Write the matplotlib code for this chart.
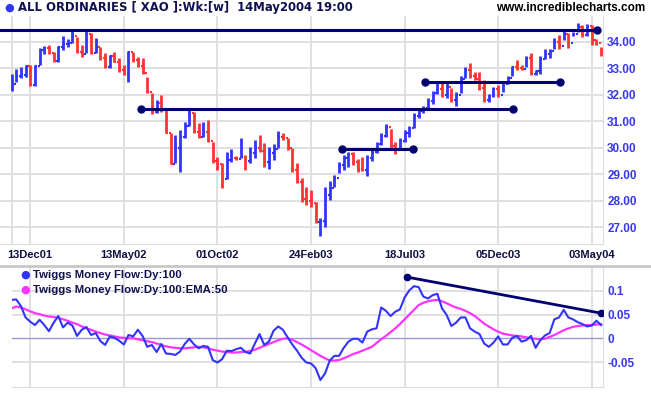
import numpy as np
import matplotlib
matplotlib.use('Agg')
import matplotlib.pyplot as plt

# Weekly bars, ALL ORDINARIES (XAO), late Oct 2001 - 14 May 2004
highs = [32.77, 32.96, 33.06, 33.14, 33.14, 33.12, 33.75, 33.84, 33.87, 33.62,
         33.84, 34.21, 34.10, 34.40, 34.19, 33.87, 34.40, 34.31, 34.15, 33.81,
         33.56, 33.50, 33.62, 33.37, 33.14, 33.65, 33.62, 33.41, 33.37, 32.68,
         32.05, 31.80, 31.99, 31.46, 30.54, 30.48, 30.67, 30.98, 31.49, 31.34,
         30.92, 30.98, 31.05, 30.23, 29.66, 29.41, 29.83, 29.95, 29.70, 30.35,
         29.73, 30.04, 30.29, 30.48, 30.17, 30.04, 30.15, 30.63, 30.54, 30.35,
         29.98, 29.41, 28.85, 28.53, 28.41, 27.97, 27.34, 28.53, 28.76, 28.97,
         29.48, 29.73, 29.85, 29.83, 29.57, 29.66, 29.72, 29.94, 30.23, 30.57,
         30.89, 30.70, 30.20, 30.35, 30.67, 30.83, 31.30, 31.48, 31.59, 31.86,
         32.14, 32.47, 32.47, 32.47, 32.24, 32.09, 32.72, 33.06, 33.18, 32.87,
         32.87, 32.56, 32.03, 32.30, 32.37, 32.50, 32.70, 33.10, 33.30, 33.12,
         33.46, 33.56, 32.95, 33.46, 33.72, 33.72, 34.13, 34.25, 34.47, 34.32,
         34.38, 34.70, 34.63, 34.67, 34.63, 34.09, 33.80]
lows = [32.15, 32.47, 32.62, 32.68, 32.34, 32.34, 33.12, 33.52, 33.52, 33.22,
        33.25, 33.69, 33.80, 33.94, 33.56, 33.41, 33.56, 33.52, 33.56, 33.31,
        33.02, 33.02, 33.22, 32.87, 32.74, 32.47, 33.22, 33.06, 32.77, 32.05,
        31.26, 31.30, 31.36, 30.54, 29.37, 29.41, 29.10, 30.38, 30.83, 30.54,
        30.35, 30.39, 30.23, 29.44, 29.16, 28.47, 28.82, 29.47, 29.54, 29.60,
        29.16, 29.41, 29.60, 29.85, 29.29, 29.20, 29.54, 29.98, 30.29, 29.91,
        29.10, 28.66, 27.97, 27.84, 27.78, 27.15, 26.68, 27.02, 28.03, 28.53,
        29.04, 29.16, 29.28, 29.35, 29.10, 29.12, 28.94, 29.50, 29.79, 30.10,
        30.42, 29.91, 29.76, 29.98, 30.23, 30.42, 30.73, 31.11, 31.33, 31.42,
        31.64, 32.01, 31.93, 31.86, 31.74, 31.59, 32.05, 32.62, 32.62, 32.55,
        32.18, 31.74, 31.74, 31.90, 31.90, 32.10, 32.40, 32.70, 32.95, 32.95,
        33.06, 32.75, 32.75, 32.80, 33.35, 33.38, 33.72, 33.72, 34.07, 33.75,
        34.22, 34.38, 34.19, 34.22, 33.88, 33.88, 33.47]
closes = [32.40, 32.70, 32.75, 33.10, 32.37, 33.10, 33.68, 33.75, 33.56, 33.27,
          33.80, 33.90, 33.95, 34.20, 33.62, 33.55, 34.28, 33.58, 33.80, 33.40,
          33.05, 33.45, 33.25, 32.95, 32.80, 33.62, 33.30, 33.10, 32.82, 32.10,
          31.35, 31.68, 31.45, 30.56, 29.40, 30.00, 30.40, 30.83, 31.30, 30.58,
          30.40, 30.60, 30.25, 29.50, 29.40, 28.82, 29.55, 29.60, 29.56, 29.65,
          29.50, 29.80, 30.00, 29.88, 29.45, 29.80, 29.95, 30.40, 30.35, 30.00,
          29.15, 28.70, 28.05, 28.00, 27.90, 27.20, 27.25, 28.20, 28.50, 28.85,
          29.35, 29.60, 29.75, 29.45, 29.20, 29.15, 29.60, 29.85, 30.15, 30.45,
          30.80, 30.05, 29.95, 30.25, 30.55, 30.75, 31.20, 31.40, 31.50, 31.75,
          32.05, 32.20, 32.00, 32.30, 31.80, 32.00, 32.60, 32.95, 32.70, 32.60,
          32.25, 31.80, 31.95, 32.20, 32.00, 32.40, 32.65, 33.05, 33.00, 32.97,
          33.40, 32.80, 32.90, 33.35, 33.55, 33.65, 34.00, 33.85, 34.30, 33.95,
          34.30, 34.55, 34.25, 34.60, 34.05, 33.95, 33.62]

# Twiggs Money Flow (100) and its 50 EMA, read once per weekly bar
tmf = [0.081, 0.082, 0.068, 0.044, 0.035, 0.028, 0.039, 0.028, 0.015, 0.033,
       0.047, 0.023, 0.033, 0.027, 0.005, 0.018, 0.024, 0.007, 0.011, -0.006,
       -0.014, 0.004, 0.001, -0.005, -0.013, 0.007, 0.004, 0.018, 0.005, -0.018,
       -0.014, -0.029, -0.012, -0.032, -0.033, -0.035, -0.028, -0.012, -0.001, -0.013,
       -0.021, -0.016, -0.018, -0.046, -0.051, -0.044, -0.026, -0.027, -0.023, -0.020,
       -0.029, -0.032, -0.011, 0.009, -0.014, -0.007, 0.016, 0.025, 0.018, 0.002,
       -0.013, -0.026, -0.041, -0.051, -0.053, -0.063, -0.088, -0.074, -0.047, -0.037,
       -0.037, -0.020, -0.007, -0.001, -0.001, -0.009, 0.014, 0.019, 0.021, 0.065,
       0.058, 0.047, 0.056, 0.061, 0.086, 0.101, 0.110, 0.108, 0.088, 0.084,
       0.091, 0.094, 0.063, 0.049, 0.026, 0.033, 0.044, 0.044, 0.021, 0.014,
       0.009, -0.011, -0.018, -0.009, 0.004, -0.013, -0.013, 0.001, 0.005, -0.007,
       -0.004, 0.005, -0.020, -0.004, 0.006, 0.011, 0.040, 0.044, 0.060, 0.044,
       0.040, 0.034, 0.030, 0.025, 0.027, 0.037, 0.028]
tmf_ema = [0.063, 0.067, 0.065, 0.061, 0.057, 0.053, 0.051, 0.048, 0.046, 0.045,
           0.043, 0.040, 0.037, 0.033, 0.030, 0.025, 0.021, 0.018, 0.014, 0.011,
           0.008, 0.006, 0.004, 0.002, 0.001, 0.000, 0.000, -0.002, -0.004, -0.006,
           -0.008, -0.011, -0.014, -0.017, -0.019, -0.020, -0.021, -0.021, -0.020, -0.019,
           -0.018, -0.019, -0.021, -0.024, -0.026, -0.028, -0.029, -0.030, -0.030, -0.029,
           -0.028, -0.027, -0.024, -0.020, -0.016, -0.012, -0.008, -0.004, -0.001, 0.000,
           -0.003, -0.008, -0.013, -0.019, -0.025, -0.031, -0.037, -0.042, -0.047, -0.047,
           -0.046, -0.042, -0.038, -0.033, -0.030, -0.026, -0.022, -0.018, -0.010, -0.002,
           0.005, 0.013, 0.021, 0.030, 0.040, 0.050, 0.060, 0.070, 0.075, 0.078,
           0.080, 0.081, 0.078, 0.074, 0.069, 0.065, 0.062, 0.058, 0.053, 0.047,
           0.039, 0.031, 0.025, 0.019, 0.014, 0.010, 0.008, 0.006, 0.005, 0.004,
           0.002, 0.000, -0.001, -0.002, -0.001, 0.003, 0.007, 0.012, 0.017, 0.021,
           0.024, 0.026, 0.027, 0.028, 0.028, 0.029, 0.030]

date_labels = ['13Dec01', '13May02', '01Oct02', '24Feb03', '18Jul03', '05Dec03', '03May04']
date_bars = [4, 24, 44, 64, 84, 104, 124]
price_ticks = [27, 28, 29, 30, 31, 32, 33, 34]
tmf_ticks = [-0.05, 0, 0.05, 0.1]
tmf_tick_labels = ['-0.05', '0', '0.05', '0.1']

# drawn trend / support lines: (level, start bar, end bar)
price_lines = [(34.44, -3.0, 125.1), (31.47, 27.7, 107.2), (29.95, 70.6, 85.8), (32.48, 88.4, 117.3)]
tmf_line = ([84.6, 126.0], [0.129, 0.053])

BLUE = '#3333ff'
RED = '#ff3333'
NAVY = '#000070'
GRID = '#dddddd'
LABEL = '#3838f0'

plt.rcParams['font.family'] = ['Liberation Sans', 'DejaVu Sans']
W, H = 651, 395
fig = plt.figure(figsize=(W / 100, H / 100), dpi=100)

def box(l, t, r, b):
    return [l / W, 1 - b / H, (r - l) / W, (b - t) / H]

idx = np.arange(len(closes))
closes_a = np.array(closes)
prev = np.concatenate([[closes_a[0] - 0.01], closes_a[:-1]])
cols = np.where(closes_a >= prev, BLUE, RED)

# price panel
ax = fig.add_axes(box(0, 16, 603, 244))
ax.set_xlim(-2.46, 126.4)
ax.set_ylim(26.37, 34.97)
for p in price_ticks:
    ax.axhline(p, color=GRID, lw=1.3, zorder=0)
for d in date_bars:
    ax.axvline(d, color=GRID, lw=1.3, zorder=0)
ax.axvline(0.1, color=GRID, lw=1.3, zorder=0)

ax.vlines(idx, lows, highs, colors=cols, lw=2.0, zorder=2)
ax.hlines(closes_a, idx, idx + 0.42, colors=cols, lw=1.5, zorder=2)
ax.hlines(prev[1:], idx[1:] - 0.42, idx[1:], colors=cols[1:], lw=1.5, zorder=2)

for k, (lvl, x0, x1) in enumerate(price_lines):
    ax.plot([x0, x1], [lvl, lvl], color=NAVY, lw=2.2, zorder=3, clip_on=False,
            solid_capstyle='butt')
    if k == 0:
        ax.plot([x1], [lvl], 'o', color=NAVY, ms=5, zorder=4)
    else:
        ax.plot([x0, x1], [lvl, lvl], 'o', color=NAVY, ms=5, zorder=4)

ax.set_xticks(date_bars)
ax.set_xticklabels(date_labels, fontsize=8, fontweight='bold', color='#101040')
ax.set_yticks(price_ticks)
ax.set_yticklabels(['%.2f' % p for p in price_ticks], fontsize=8.5, fontweight='bold', color=LABEL)
ax.yaxis.tick_right()
ax.tick_params(length=0, pad=3)
ax.tick_params(axis='x', pad=4)
for s in ['top', 'left']:
    ax.spines[s].set_visible(False)
ax.spines['right'].set_color(GRID)
ax.spines['bottom'].set_color(GRID)

# money flow panel
ax2 = fig.add_axes(box(12, 268, 603, 387))
ax2.set_xlim(0.1, 126.4)
ax2.set_ylim(-0.1027, 0.1483)
for v in tmf_ticks:
    if v == 0:
        ax2.axhline(v, color='#9a9ad8', lw=1.0, zorder=1)
    else:
        ax2.axhline(v, color=GRID, lw=1.3, zorder=0)
for d in date_bars:
    ax2.axvline(d, color=GRID, lw=1.3, zorder=0)
ax2.plot(idx, tmf_ema, color='#ff33ff', lw=1.6, zorder=2)
ax2.plot(idx, tmf, color=BLUE, lw=1.5, zorder=3)
ax2.plot(tmf_line[0], tmf_line[1], color=NAVY, lw=2.0, zorder=4, marker='o', ms=4.5)
ax2.set_xticks([])
ax2.set_yticks(tmf_ticks)
ax2.set_yticklabels(tmf_tick_labels, fontsize=8.5, fontweight='bold', color=LABEL)
ax2.yaxis.tick_right()
ax2.tick_params(length=0, pad=3)
for s in ['top', 'left']:
    ax2.spines[s].set_visible(False)
ax2.spines['right'].set_color(GRID)
ax2.spines['bottom'].set_color(GRID)

# separator between panels
fig.add_artist(plt.Line2D([0, 1], [1 - 265.5 / H, 1 - 265.5 / H], color='#c8c8c8', lw=2))

# headings
fig.text(9 / W, 1 - 8 / H, '\u25cf', color=BLUE, fontsize=8, ha='center', va='center',
         family=['DejaVu Sans'])
fig.text(18 / W, 1 - 8 / H, 'ALL ORDINARIES [ XAO ]:Wk:[w]  14May2004 19:00', color='#101050',
         fontsize=8.4, fontweight='bold', va='center', family=['DejaVu Sans'])
fig.text(645 / W, 1 - 8 / H, 'www.incrediblecharts.com', color='black',
         fontsize=8.5, fontweight='bold', va='center', ha='right')
fig.text(25 / W, 1 - 275 / H, '\u25cf', color=BLUE, fontsize=8, ha='center', va='center',
         family=['DejaVu Sans'])
fig.text(33 / W, 1 - 275 / H, 'Twiggs Money Flow:Dy:100', color='#101050',
         fontsize=8.2, fontweight='bold', va='center')
fig.text(25 / W, 1 - 290 / H, '\u25cf', color='#ff33ff', fontsize=8, ha='center', va='center',
         family=['DejaVu Sans'])
fig.text(33 / W, 1 - 290 / H, 'Twiggs Money Flow:Dy:100:EMA:50', color='#101050',
         fontsize=8.2, fontweight='bold', va='center')

fig.savefig('out.png', dpi=100)
